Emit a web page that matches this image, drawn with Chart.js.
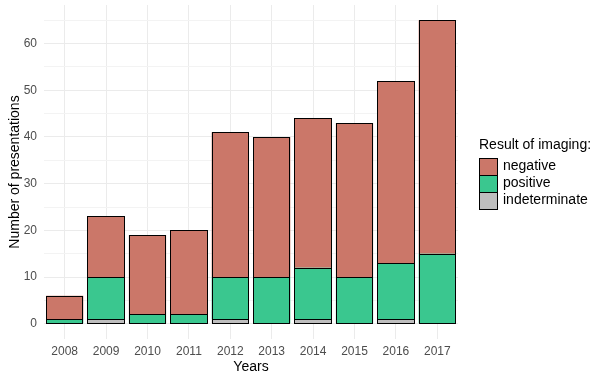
<!DOCTYPE html>
<html>
<head>
<meta charset="utf-8">
<script src="https://cdn.jsdelivr.net/npm/chart.js@4"></script>
<style>
	html, body { margin: 0; padding: 0; background: #ffffff; }
	#wrap { width: 605px; height: 379px; position: relative; }
</style>
</head>
<body>
<div id="wrap"><canvas id="bars"></canvas></div>
<script>
// data
const years = ['2008', '2009', '2010', '2011', '2012', '2013', '2014', '2015', '2016', '2017'];
const indeterminate = [0, 1, 0, 0, 1, 0, 1, 0, 1, 0];
const positive = [1, 9, 2, 2, 9, 10, 11, 10, 12, 15];
const negative = [5, 13, 17, 18, 31, 30, 32, 33, 39, 50];
const yTicks = [0, 5, 10, 15, 20, 25, 30, 35, 40, 45, 50, 55, 60, 65];

const colNeg = '#CB7769';
const colPos = '#3AC78F';
const colInd = '#BEBEBE';
const fontFam = '"Liberation Sans", Arial, sans-serif';

function noZero(arr) {
	// ggplot does not draw empty segments
	return arr.map((v) => v === 0 ? null : v);
}

function make_set(label, values, color) {
	return {
		label: label,
		data: noZero(values),
		backgroundColor: color,
		borderWidth: 0,
		barPercentage: 0.9,
		categoryPercentage: 1.0,
	};
}

// crisp black outline round every segment
const outlines = {
	id: 'outlines',
	afterDatasetsDraw(chart) {
		const ctx = chart.ctx;
		ctx.save();
		ctx.strokeStyle = '#000000';
		ctx.lineWidth = 1;
		chart.data.datasets.forEach((ds, i) => {
			const meta = chart.getDatasetMeta(i);
			meta.data.forEach((el, j) => {
				if (ds.data[j] === null) {
					return;
				}
				const p = el.getProps(['x', 'y', 'base', 'width'], true);
				const l = Math.round(p.x - p.width / 2);
				const r = Math.round(p.x + p.width / 2);
				const t = Math.round(Math.min(p.y, p.base));
				const b = Math.round(Math.max(p.y, p.base));
				ctx.strokeRect(l + 0.5, t + 0.5, r - l - 1, b - t);
			});
		});
		ctx.restore();
	}
};

// legend drawn by hand, like the ggplot one on the right
const sideLegend = {
	id: 'sideLegend',
	afterDraw(chart) {
		const ctx = chart.ctx;
		ctx.save();
		ctx.fillStyle = '#000000';
		ctx.font = '14px ' + fontFam;
		ctx.textBaseline = 'middle';
		ctx.textAlign = 'left';
		ctx.fillText('Result of imaging:', 479, 145);
		const items = [
			['negative', colNeg],
			['positive', colPos],
			['indeterminate', colInd],
		];
		for (let i = 0; i < items.length; i++) {
			const y = 158 + i * 17;
			ctx.fillStyle = items[i][1];
			ctx.fillRect(479, y, 19, 17);
			ctx.strokeStyle = '#000000';
			ctx.lineWidth = 1;
			ctx.strokeRect(479.5, y + 0.5, 18, 17);
			ctx.fillStyle = '#000000';
			ctx.fillText(items[i][0], 503, y + 8);
		}
		ctx.restore();
	}
};

const config_bars = {
	type: 'bar',
	data: {
		labels: years,
		datasets: [
			make_set('indeterminate', indeterminate, colInd),
			make_set('positive', positive, colPos),
			make_set('negative', negative, colNeg),
		],
	},
	options: {
		responsive: true,
		maintainAspectRatio: false,
		animation: false,
		layout: {
			padding: { top: 5, right: 147, left: 0, bottom: 0 },
		},
		plugins: {
			legend: { display: false },
			tooltip: { enabled: false },
		},
		scales: {
			x: {
				stacked: true,
				offset: true,
				grid: {
					color: '#EBEBEB',
					lineWidth: 1,
					offset: false,
					drawTicks: false,
				},
				border: { display: false },
				ticks: {
					color: '#4D4D4D',
					padding: 5,
					font: { family: fontFam, size: 12 },
				},
				title: {
					display: true,
					text: 'Years',
					color: '#000000',
					padding: { top: 0, bottom: 3 },
					font: { family: fontFam, size: 14 },
				},
				afterFit(scale) {
					scale.height = 40;
				},
			},
			y: {
				stacked: true,
				min: -3.25,
				max: 68.25,
				afterBuildTicks(scale) {
					scale.ticks = yTicks.map((v) => ({ value: v }));
				},
				ticks: {
					color: '#4D4D4D',
					padding: 7,
					autoSkip: false,
					font: { family: fontFam, size: 12 },
					callback: (v) => v % 10 === 0 ? String(v) : '',
				},
				grid: {
					color: (c) => c.tick && c.tick.value % 10 === 0 ? '#EBEBEB' : '#F3F3F3',
					lineWidth: 1,
					drawTicks: false,
				},
				border: { display: false },
				title: {
					display: true,
					text: 'Number of presentations',
					color: '#000000',
					padding: { top: 7, bottom: 0 },
					font: { family: fontFam, size: 14 },
				},
				afterFit(scale) {
					scale.width = 44;
					scale.paddingTop = 0;
					scale.paddingBottom = 0;
				},
			},
		},
	},
	plugins: [outlines, sideLegend],
};

const myBars = new Chart(document.getElementById('bars'), config_bars);
</script>
</body>
</html>
